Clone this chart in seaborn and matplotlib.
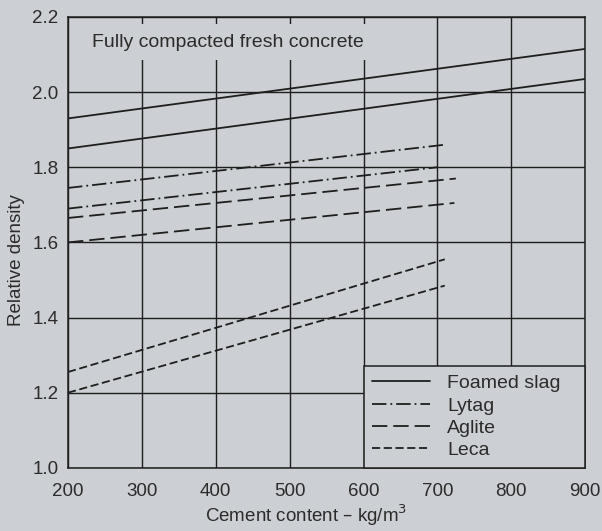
import matplotlib
matplotlib.use('Agg')
import matplotlib.pyplot as plt
import pandas as pd
import seaborn as sns
from matplotlib.lines import Line2D

# Values (cement content kg/m3 -> relative density)
foamed_upper_x = [200, 900]
foamed_upper_y = [1.93, 2.115]
foamed_lower_x = [200, 900]
foamed_lower_y = [1.85, 2.035]
lytag_upper_x = [200, 710]
lytag_upper_y = [1.745, 1.86]
lytag_lower_x = [200, 700]
lytag_lower_y = [1.69, 1.80]
aglite_upper_x = [200, 725]
aglite_upper_y = [1.665, 1.77]
aglite_lower_x = [200, 723]
aglite_lower_y = [1.60, 1.705]
leca_upper_x = [200, 710]
leca_upper_y = [1.255, 1.555]
leca_lower_x = [200, 710]
leca_lower_y = [1.20, 1.485]

materials = ['Foamed slag', 'Lytag', 'Aglite', 'Leca']
x_ticks = [200, 300, 400, 500, 600, 700, 800, 900]
y_ticks = [1.0, 1.2, 1.4, 1.6, 1.8, 2.0, 2.2]

curves = [
    ('Foamed slag', 'fs1', foamed_upper_x, foamed_upper_y),
    ('Foamed slag', 'fs2', foamed_lower_x, foamed_lower_y),
    ('Lytag', 'ly1', lytag_upper_x, lytag_upper_y),
    ('Lytag', 'ly2', lytag_lower_x, lytag_lower_y),
    ('Aglite', 'ag1', aglite_upper_x, aglite_upper_y),
    ('Aglite', 'ag2', aglite_lower_x, aglite_lower_y),
    ('Leca', 'le1', leca_upper_x, leca_upper_y),
    ('Leca', 'le2', leca_lower_x, leca_lower_y),
]
rows = []
for mat, cid, xs, ys in curves:
    for xv, yv in zip(xs, ys):
        rows.append({'material': mat, 'curve': cid, 'cement': xv, 'density': yv})
df = pd.DataFrame(rows)

paper = '#cccfd3'
ink = '#1e1e1e'
dash_map = {'Foamed slag': '', 'Lytag': (8, 2.2, 1, 2.2), 'Aglite': (8.5, 3.3), 'Leca': (4.5, 2)}

sns.set_style('white')
plt.rcParams['font.family'] = ['Liberation Sans', 'DejaVu Sans']
plt.rcParams['text.color'] = '#2b2b2b'

fig = plt.figure(figsize=(6.02, 5.31), dpi=100, facecolor=paper)
ax = fig.add_axes([0.113, 0.119, 0.859, 0.849])
ax.set_facecolor(paper)

sns.lineplot(data=df, x='cement', y='density', style='material', units='curve',
             estimator=None, dashes=dash_map, color=ink, lw=1.3, sort=False,
             legend=False, ax=ax)

ax.set_xlim(200, 900)
ax.set_ylim(1.0, 2.2)
ax.set_xticks(x_ticks)
ax.set_yticks(y_ticks)
ax.set_yticklabels([f'{v:.1f}' for v in y_ticks])
ax.grid(True, color=ink, lw=1.0)
ax.set_axisbelow(True)
for s in ax.spines.values():
    s.set_color(ink)
    s.set_linewidth(1.1)
ax.tick_params(length=0, labelsize=13.5, labelcolor='#2b2b2b')
ax.tick_params(axis='x', pad=11)
ax.tick_params(axis='y', pad=7)

ax.set_xlabel('Cement content – kg/m$^3$', fontsize=13.5, color='#2b2b2b')
ax.xaxis.set_label_coords(0.46, -0.077)
ax.set_ylabel('Relative density', fontsize=13.5, color='#2b2b2b')
ax.yaxis.set_label_coords(-0.083, 0.46)

ax.text(0.046, 0.944, 'Fully compacted fresh concrete', transform=ax.transAxes,
        fontsize=14, va='center', ha='left', zorder=5,
        bbox=dict(facecolor=paper, edgecolor='none', pad=7))

handles = [Line2D([], [], color=ink, lw=1.3, dashes=dash_map[m]) if dash_map[m]
           else Line2D([], [], color=ink, lw=1.3) for m in materials]
leg = ax.legend(handles, materials, loc='lower left', bbox_to_anchor=(4 / 7, 0, 3 / 7, 0.228),
                mode='expand', borderaxespad=0, fancybox=False, fontsize=14,
                handlelength=2.95, handletextpad=0.9, labelspacing=0.24, borderpad=0.45,
                framealpha=1)
leg.get_frame().set_facecolor(paper)
leg.get_frame().set_edgecolor(ink)
leg.get_frame().set_linewidth(1.1)

fig.savefig('out.png', dpi=100, facecolor=paper)
